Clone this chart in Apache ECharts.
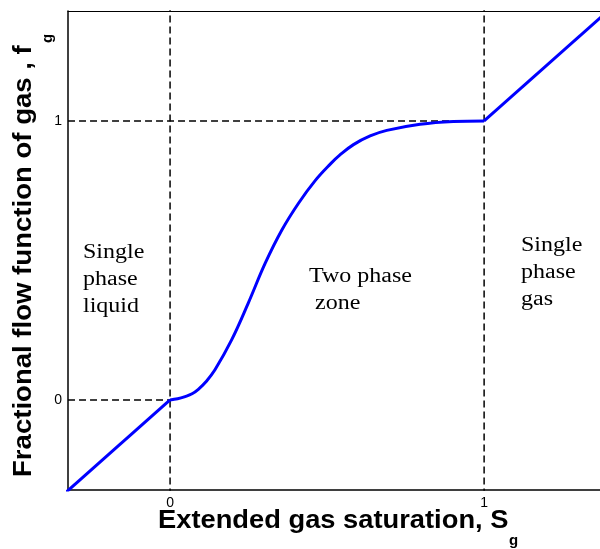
<!DOCTYPE html>
<html>
<head>
<meta charset="utf-8">
<script src="https://cdn.jsdelivr.net/npm/echarts/dist/echarts.min.js"></script>
<style>
html,body{margin:0;padding:0;background:#fff;}
#chart{width:600px;height:549px;}
</style>
</head>
<body>
<div id="chart"></div>
<script>
// ---- data ----
const xTickValues = [0, 1];
const yTickValues = [0, 1];
// single phase liquid (f = S)
const liquidS = [-0.4, 0];
const liquidF = [-0.4, 0];
// two phase zone
const twoPhaseS = [0, 0.024, 0.048, 0.070, 0.090, 0.115, 0.143, 0.196, 0.249, 0.303, 0.356, 0.409, 0.462, 0.510, 0.541, 0.584, 0.637, 0.690, 0.796, 0.902, 1.0];
const twoPhaseF = [0, 0.004, 0.012, 0.022, 0.038, 0.066, 0.108, 0.215, 0.347, 0.490, 0.609, 0.705, 0.786, 0.845, 0.878, 0.915, 0.946, 0.966, 0.988, 0.998, 1.0];
// single phase gas (f = S)
const gasS = [1, 1.45];
const gasF = [1, 1.45];
// dashed guide lines
const guideV0 = [[0, -0.5], [0, 1.5]];
const guideV1 = [[1, -0.5], [1, 1.5]];
const guideH0 = [[-0.5, 0], [0, 0]];
const guideH1 = [[-0.5, 1], [1, 1]];
const regionTexts = ['Single\nphase\nliquid', 'Two phase\n zone', 'Single\nphase\ngas'];
const xTitle = 'Extended gas saturation, S';
const yTitle = 'Fractional flow function of gas , f';
const subG = 'g';

const zip = (a, b) => a.map((v, i) => [v, b[i]]);

const chart = echarts.init(document.getElementById('chart'), null, {renderer: 'canvas'});

const dashStyle = {color: '#000', width: 1.5, type: [7, 4]};
const blueStyle = {color: '#0000ff', width: 3};

function guide(d) {
  return {type: 'line', data: d, symbol: 'none', lineStyle: dashStyle, silent: true, animation: false, clip: true};
}
function blue(d, smooth) {
  return {type: 'line', data: d, symbol: 'none', lineStyle: blueStyle, smooth: smooth ? 0.4 : false,
          silent: true, animation: false, clip: true};
}

const serifStyle = {fontFamily: 'Liberation Serif', fontSize: 20, lineHeight: 27, fill: '#000',
                    verticalAlign: 'top', align: 'left'};

const xMin = -0.325, xMax = 1.369;
chart.setOption({
  animation: false,
  backgroundColor: '#fff',
  grid: {left: 68, right: 0, top: 11, bottom: 59, show: false, containLabel: false},
  xAxis: [{
    type: 'value', min: xMin, max: xMax,
    axisLine: {show: true, onZero: false, lineStyle: {color: '#000', width: 1.5}},
    axisTick: {show: false},
    splitLine: {show: false},
    axisLabel: {customValues: xTickValues, color: '#000', fontSize: 14, fontFamily: 'Liberation Sans', margin: 6,
                formatter: v => String(v)}
  }, {
    type: 'value', position: 'top', min: xMin, max: xMax,
    axisLine: {show: true, onZero: false, lineStyle: {color: '#000', width: 1}},
    axisTick: {show: false}, splitLine: {show: false}, axisLabel: {show: false}
  }],
  yAxis: {
    type: 'value', min: -0.323, max: 1.394,
    axisLine: {show: true, onZero: false, lineStyle: {color: '#000', width: 1.5}},
    axisTick: {show: false},
    splitLine: {show: false},
    axisLabel: {customValues: yTickValues, color: '#000', fontSize: 14, fontFamily: 'Liberation Sans', margin: 6,
                formatter: v => String(v)}
  },
  series: [
    guide(guideV0), guide(guideV1), guide(guideH0), guide(guideH1),
    blue(zip(liquidS, liquidF), false),
    blue(zip(twoPhaseS, twoPhaseF), true),
    blue(zip(gasS, gasF), false)
  ],
  graphic: [
    {type: 'text', x: 83, y: 238.75, scaleX: 1.2, style: Object.assign({text: regionTexts[0]}, serifStyle)},
    {type: 'text', x: 309, y: 263, scaleX: 1.2, style: Object.assign({text: regionTexts[1]}, serifStyle)},
    {type: 'text', x: 521, y: 232, scaleX: 1.2, style: Object.assign({text: regionTexts[2]}, serifStyle)},
    {type: 'text', x: 158, y: 521, scaleX: 1.05,
     style: {text: xTitle, fontFamily: 'Liberation Sans', fontWeight: 'bold', fontSize: 26, fill: '#000',
             align: 'left', verticalAlign: 'middle'}},
    {type: 'text', x: 509, y: 540.6,
     style: {text: subG, fontFamily: 'Liberation Sans', fontWeight: 'bold', fontSize: 15, fill: '#000',
             align: 'left', verticalAlign: 'middle'}},
    {type: 'text', x: 24, y: 477, rotation: Math.PI / 2, scaleX: 1.06,
     style: {text: yTitle, fontFamily: 'Liberation Sans', fontWeight: 'bold', fontSize: 26, fill: '#000',
             align: 'left', verticalAlign: 'middle'}},
    {type: 'text', x: 47.6, y: 43, rotation: Math.PI / 2,
     style: {text: subG, fontFamily: 'Liberation Sans', fontWeight: 'bold', fontSize: 15, fill: '#000',
             align: 'left', verticalAlign: 'middle'}}
  ]
});
</script>
</body>
</html>
